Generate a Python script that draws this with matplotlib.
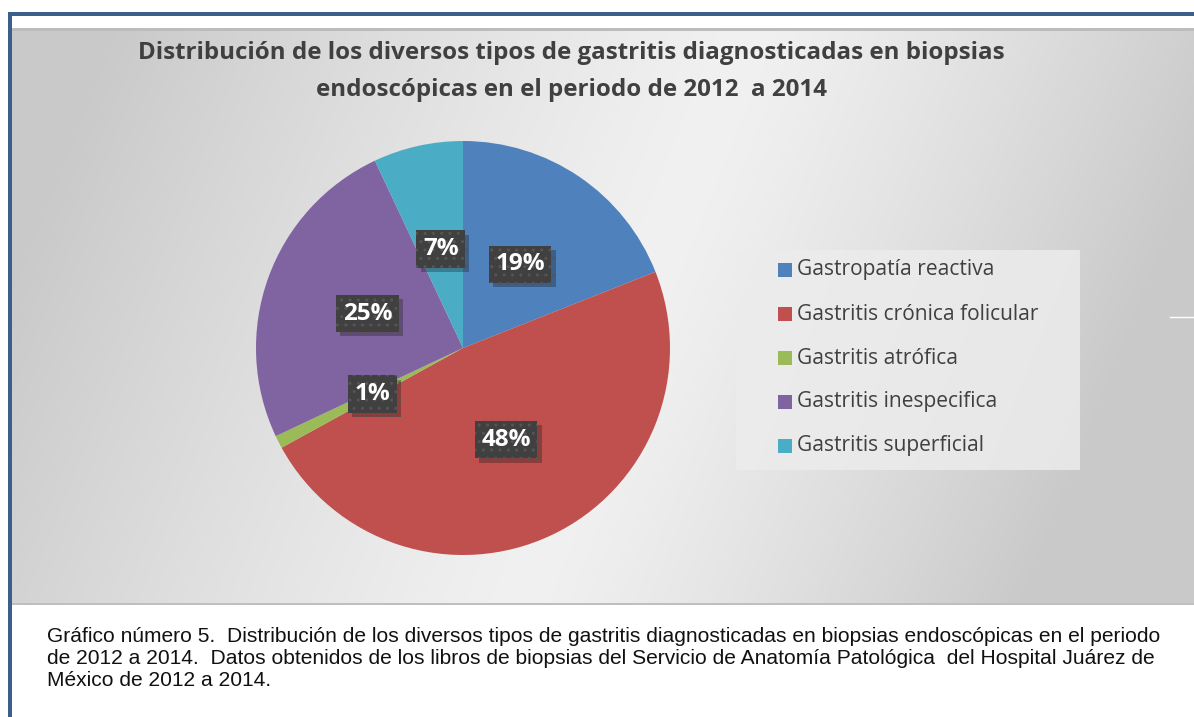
import numpy as np
import matplotlib
matplotlib.use("Agg")
import matplotlib.pyplot as plt
from matplotlib import patheffects as pe
from matplotlib.patches import Rectangle

W, H = 1194, 717

# ---- data ----
categories = ["Gastropatía reactiva", "Gastritis crónica folicular", "Gastritis atrófica",
              "Gastritis inespecifica", "Gastritis superficial"]
values = [19, 48, 1, 25, 7]
colors = ["#4f81bd", "#c0504d", "#9bbb59", "#8064a2", "#4bacc6"]
title_lines = ["Distribución de los diversos tipos de gastritis diagnosticadas en biopsias",
               "endoscópicas en el periodo de 2012  a 2014"]
caption_lines = [
    "Gráfico número 5.  Distribución de los diversos tipos de gastritis diagnosticadas en biopsias endoscópicas en el periodo",
    "de 2012 a 2014.  Datos obtenidos de los libros de biopsias del Servicio de Anatomía Patológica  del Hospital Juárez de",
    "México de 2012 a 2014.",
]

plt.rcParams["hatch.color"] = "#555555"
plt.rcParams["hatch.linewidth"] = 1.0


def px_axes(fig, x, y, w, h, **kw):
    return fig.add_axes([x / W, 1 - (y + h) / H, w / W, h / H], **kw)


fig = plt.figure(figsize=(W / 100, H / 100), dpi=100)
fig.patch.set_facecolor("white")

# ---- chart background gradient ----
bx, by, bw, bh = 12, 28, 1182, 577
bg = px_axes(fig, bx, by, bw, bh)
bg.set_axis_off()
yy, xx = np.mgrid[0:bh, 0:bw].astype(float)
u = xx - 620 + 0.4 * (yy - 300)
u = np.where(u < 0, u / 640.0, u / 500.0)
u = np.clip(np.abs(u), 0, 1)
lum = 0.945 - 0.155 * u ** 1.25
img = np.dstack([lum, lum, lum])
img[0:3, :, :] = 0.74
img[-2:, :, :] = 0.75
bg.imshow(img, aspect="auto", extent=(0, bw, bh, 0), interpolation="bilinear")
bg.set_xlim(0, bw)
bg.set_ylim(bh, 0)

# ---- frame (blue lines) ----
frame = px_axes(fig, 0, 0, W, H)
frame.set_axis_off()
frame.set_xlim(0, W)
frame.set_ylim(H, 0)
frame.add_patch(Rectangle((8, 12), W - 8, 3.5, color="#3a5f8c", lw=0))
frame.add_patch(Rectangle((8, 12), 3.5, H - 12, color="#3a5f8c", lw=0))
frame.plot([1170, 1194], [317, 317], color="white", lw=1)

# ---- title ----
tcol = "#404040"
frame.text(571, 53, title_lines[0], ha="center", va="center", fontsize=17.4,
           fontweight="bold", color=tcol, family="Open Sans")
frame.text(571, 90, title_lines[1], ha="center", va="center", fontsize=17.4,
           fontweight="bold", color=tcol, family="Open Sans")

# ---- caption ----
for i, line in enumerate(caption_lines):
    frame.text(47, 637 + i * 21.5, line, ha="left", va="center", fontsize=15.1,
               color="#111111", family="Liberation Sans")

# ---- pie ----
cx, cy, r = 463, 348, 207
ax = px_axes(fig, cx - r, cy - r, 2 * r, 2 * r)
wedges, texts, autotexts = ax.pie(values, colors=colors, startangle=90, counterclock=False,
                                  autopct="%.0f%%", pctdistance=0.49, radius=1.0,
                                  wedgeprops=dict(linewidth=0))
ax.set_xlim(-1, 1)
ax.set_ylim(-1, 1)
ax.set_aspect("equal")
ax.set_axis_off()
for t in autotexts:
    t.set_color("white")
    t.set_fontsize(17.5)
    t.set_fontweight("bold")
    t.set_family("Open Sans")
    t.set_bbox(dict(boxstyle="square,pad=0.27", facecolor="#404040", edgecolor="#555555",
                    hatch="..", linewidth=0))
    t.get_bbox_patch().set_path_effects([pe.SimplePatchShadow(offset=(3, -3), alpha=0.3),
                                         pe.Normal()])

# ---- legend ----
lg = px_axes(fig, 736, 250, 344, 220)
lg.set_xlim(0, 344)
lg.set_ylim(220, 0)
lg.set_axis_off()
lg.add_patch(Rectangle((0, 0), 344, 220, facecolor="#ececec", edgecolor="none", alpha=0.85))
for i, (lab, c) in enumerate(zip(categories, colors)):
    yc = 20 + i * 44
    lg.add_patch(Rectangle((42, yc - 7), 14, 14, facecolor=c, edgecolor="none"))
    lg.text(61, yc, lab, ha="left", va="center", fontsize=15.1, color="#404040",
            family="Open Sans")

fig.savefig("out.png", dpi=100)
